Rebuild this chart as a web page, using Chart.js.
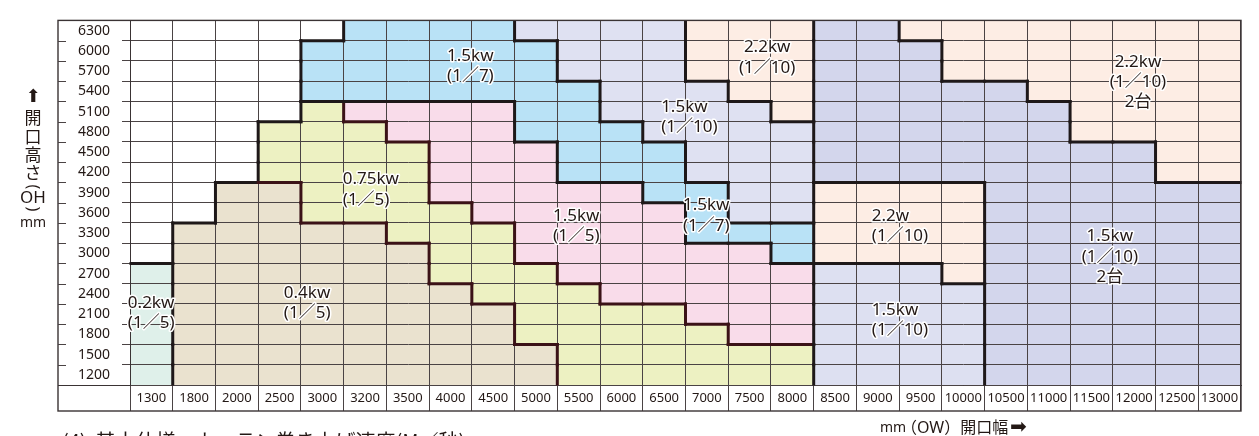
<!DOCTYPE html>
<html><head><meta charset="utf-8">
<script src="https://cdn.jsdelivr.net/npm/chart.js@4.4.0/dist/chart.umd.min.js"></script>
<style>html,body{margin:0;padding:0;background:#fff;overflow:hidden}#wrap{width:1259px;height:436px;position:relative}</style>
</head><body><div id="wrap"><canvas id="c" width="1259" height="436"></canvas></div>
<script>
// ---- categories (opening width, mm) ----
const widthLabels = ['1300','1800','2000','2500','3000','3200','3500','4000','4500','5000','5500','6000','6500','7000','7500','8000','8500','9000','9500','10000','10500','11000','11500','12000','12500','13000'];
// ---- rows (opening height, mm) ----
const heightLabels = [1200,1500,1800,2100,2400,2700,3000,3300,3600,3900,4200,4500,4800,5100,5400,5700,6000,6300];

// ---- series: per column [lowest row, highest row] covered by each motor zone ----
const kw02_1_5 = [[1200,2700],null,null,null,null,null,null,null,null,null,null,null,null,null,null,null,null,null,null,null,null,null,null,null,null,null];
const kw04_1_5 = [null,[1200,3300],[1200,3900],[1200,3900],[1200,3300],[1200,3300],[1200,3000],[1200,2400],[1200,2100],[1200,1500],null,null,null,null,null,null,null,null,null,null,null,null,null,null,null,null];
const kw075_1_5 = [null,null,null,[4200,4800],[3600,5100],[3600,4800],[3300,4500],[2700,3600],[2400,3300],[1800,2700],[1200,2400],[1200,2100],[1200,2100],[1200,1800],[1200,1500],[1200,1500],null,null,null,null,null,null,null,null,null,null];
const kw15_1_5 = [null,null,null,null,null,[5100,5100],[4800,5100],[3900,5100],[3600,5100],[3000,4500],[2700,3900],[2400,3900],[2400,3600],[2100,3000],[1800,3000],[1800,2700],null,null,null,null,null,null,null,null,null,null];
const kw15_1_7 = [null,null,null,null,[5400,6000],[5400,6300],[5400,6300],[5400,6300],[5400,6300],[4800,6000],[4200,5400],[4200,4800],[3900,4500],[3300,3900],[3300,3300],[3000,3300],null,null,null,null,null,null,null,null,null,null];
const kw15_1_10a = [null,null,null,null,null,null,null,null,null,[6300,6300],[5700,6300],[5100,6300],[4800,6300],[4200,5400],[3600,5100],[3600,4800],null,null,null,null,null,null,null,null,null,null];
const kw22_1_10a = [null,null,null,null,null,null,null,null,null,null,null,null,null,[5700,6300],[5400,6300],[5100,6300],null,null,null,null,null,null,null,null,null,null];
const kw15_1_10b = [null,null,null,null,null,null,null,null,null,null,null,null,null,null,null,null,[1200,2700],[1200,2700],[1200,2700],[1200,2400],null,null,null,null,null,null];
const kw22_1_10b = [null,null,null,null,null,null,null,null,null,null,null,null,null,null,null,null,[3000,3900],[3000,3900],[3000,3900],[2700,3900],null,null,null,null,null,null];
const kw15_1_10x2 = [null,null,null,null,null,null,null,null,null,null,null,null,null,null,null,null,[4200,6300],[4200,6300],[4200,6000],[4200,5400],[1200,5400],[1200,5100],[1200,4500],[1200,4500],[1200,3900],[1200,3900]];
const kw22_1_10x2 = [null,null,null,null,null,null,null,null,null,null,null,null,null,null,null,null,null,null,[6300,6300],[5700,6300],[5700,6300],[5400,6300],[4800,6300],[4800,6300],[4200,6300],[4200,6300]];

const ROW_STEP = 300, HALF = 150;
const TXT = '#231815', GRID = '#4a4344', FRAME = '#3a3334';
const zones = [
  {spans: kw02_1_5,   color: '#dff0ea', warm: false},
  {spans: kw04_1_5,   color: '#eae2cf', warm: true},
  {spans: kw075_1_5,  color: '#edf1c2', warm: true},
  {spans: kw15_1_5,   color: '#f9dcea', warm: true},
  {spans: kw15_1_7,   color: '#b9e2f6', warm: false},
  {spans: kw15_1_10a, color: '#dfe1f2', warm: false},
  {spans: kw22_1_10a, color: '#fdede4', warm: false},
  {spans: kw15_1_10b, color: '#dde0f1', warm: false},
  {spans: kw22_1_10b, color: '#fdede4', warm: false},
  {spans: kw15_1_10x2,color: '#d3d6ec', warm: false},
  {spans: kw22_1_10x2,color: '#fdede4', warm: false}
];

// zone captions: u = column-space position (0 = left edge), mm = height of first line
const captions = [
  {lines:['0.2kw','(1／5)'], u:-0.05, mm:2264, align:'left'},
  {lines:['0.4kw','(1／5)'], u:3.60, mm:2407, align:'left'},
  {lines:['0.75kw','(1／5)'], u:4.98, mm:4093, align:'left'},
  {lines:['1.5kw','(1／7)'], u:7.42, mm:5921, align:'left'},
  {lines:['1.5kw','(1／5)'], u:9.90, mm:3550, align:'left'},
  {lines:['1.5kw','(1／10)'], u:12.43, mm:5164, align:'left'},
  {lines:['1.5kw','(1／7)'], u:12.94, mm:3707, align:'left'},
  {lines:['2.2kw','(1／10)'], u:14.91, mm:6050, align:'center'},
  {lines:['2.2w','(1／10)'], u:17.36, mm:3550, align:'left'},
  {lines:['1.5kw','(1／10)'], u:17.36, mm:2164, align:'left'},
  {lines:['1.5kw','(1／10)','2台'], u:22.93, mm:3250, align:'center'},
  {lines:['2.2kw','(1／10)','2台'], u:23.59, mm:5836, align:'center'}
];

const datasets = zones.map(z => ({
  data: z.spans.map(s => s ? [s[0] - HALF, s[1] + HALF] : null),
  backgroundColor: z.color,
  borderWidth: 0,
  yAxisID: 'y'
}));

function buildGrid(){
  const nC = widthLabels.length, nR = heightLabels.length;
  const g = [];
  for (let c=0;c<nC;c++){ g.push(new Array(nR).fill(-1)); }
  zones.forEach((z,zi)=>{
    z.spans.forEach((s,c)=>{
      if(!s) return;
      for (let r=0;r<nR;r++){ const v=heightLabels[r]; if(v>=s[0] && v<=s[1]) g[c][r]=zi; }
    });
  });
  return g;
}

const decor = {
  id:'decor',
  beforeDraw(chart){
    const ctx=chart.ctx; ctx.save(); ctx.fillStyle='#fff'; ctx.fillRect(0,0,chart.width,chart.height); ctx.restore();
  },
  afterDraw(chart){
    const ctx = chart.ctx, xs = chart.scales.x, ys = chart.scales.y, ca = chart.chartArea;
    const xAt = u => xs.getPixelForValue(u - 0.5);
    const yAt = k => ys.getPixelForValue(heightLabels[0] - HALF + ROW_STEP * k);
    const g = buildGrid();
    const nC = widthLabels.length, nR = heightLabels.length;
    ctx.save();
    ctx.beginPath(); ctx.rect(ca.left-0.5, ca.top-0.5, ca.right-ca.left+1, ca.bottom-ca.top+1); ctx.clip();
    ctx.lineWidth = 3; ctx.lineCap = 'square';
    const seg = (x1,y1,x2,y2,a,b)=>{
      const warm = a>=0 && b>=0 && zones[a].warm && zones[b].warm;
      ctx.strokeStyle = warm ? '#3b1217' : '#1e1819';
      ctx.beginPath(); ctx.moveTo(x1,y1); ctx.lineTo(x2,y2); ctx.stroke();
    };
    for (let c=0;c<nC;c++){
      for (let r=0;r<nR;r++){
        if (r<nR-1 && g[c][r]!==g[c][r+1]) seg(xAt(c), yAt(r+1), xAt(c+1), yAt(r+1), g[c][r], g[c][r+1]);
        if (c<nC-1 && g[c][r]!==g[c+1][r]) seg(xAt(c+1), yAt(r), xAt(c+1), yAt(r+1), g[c][r], g[c+1][r]);
      }
    }
    ctx.restore();

    // captions
    ctx.save();
    ctx.font = '17px "Noto Sans", "Noto Sans CJK JP", sans-serif';
    ctx.textBaseline = 'middle';
    ctx.lineJoin = 'round';
    captions.forEach(cp=>{
      ctx.textAlign = cp.align;
      const x = xAt(cp.u);
      cp.lines.forEach((t,i)=>{
        const y = ys.getPixelForValue(cp.mm - ROW_STEP*i);
        ctx.strokeStyle = '#fff'; ctx.lineWidth = 3; ctx.strokeText(t,x,y);
        ctx.fillStyle = TXT; ctx.fillText(t,x,y);
      });
    });
    ctx.restore();

    // frame & label column
    const L = 58, R = ca.right, T = ca.top, B = chart.scales.x.bottom;
    ctx.save();
    ctx.strokeStyle = FRAME; ctx.lineWidth = 1.4;
    ctx.strokeRect(L, T, R-L, B-T);
    ctx.lineWidth = 1;
    ctx.beginPath(); ctx.moveTo(L, Math.round(ca.bottom)+0.5); ctx.lineTo(ca.left, Math.round(ca.bottom)+0.5); ctx.stroke();
    ctx.strokeStyle = GRID;
    for (let k=1;k<nR;k++){ const y=Math.round(yAt(k))+0.5; ctx.beginPath(); ctx.moveTo(L,y); ctx.lineTo(L+8,y); ctx.stroke(); }
    ctx.restore();

    // axis titles
    ctx.save();
    ctx.fillStyle = TXT; ctx.textAlign='center'; ctx.textBaseline='middle';
    ctx.font = '18px "DejaVu Sans", sans-serif';
    ctx.fillText('⬆', 33, 97);
    ctx.font = '17px "Noto Sans CJK JP", sans-serif';
    const vchars = ['開','口','高','さ'];
    vchars.forEach((ch,i)=>ctx.fillText(ch, 33, 118 + i*18.3));
    ctx.save(); ctx.translate(33,187); ctx.rotate(Math.PI/2); ctx.font='16px "Noto Sans", sans-serif'; ctx.fillText('(',0,0); ctx.restore();
    ctx.font = '17px "Noto Sans", sans-serif'; ctx.fillText('OH', 33, 198);
    ctx.save(); ctx.translate(33,209); ctx.rotate(Math.PI/2); ctx.font='16px "Noto Sans", sans-serif'; ctx.fillText(')',0,0); ctx.restore();
    ctx.font = '14px "Noto Sans", sans-serif'; ctx.fillText('mm', 33, 223);

    ctx.textAlign='left';
    ctx.font = '14px "Noto Sans", sans-serif';
    ctx.fillText('mm', 880, 428);
    ctx.font = '16px "Noto Sans", "Noto Sans CJK JP", sans-serif';
    ctx.fillText('（OW）開口幅', 901, 428);
    ctx.font = '20px "DejaVu Sans", sans-serif';
    ctx.fillText('➡', 1010, 428);

    ctx.textBaseline='top';
    ctx.font = '20px "Noto Sans CJK JP", sans-serif';
    ctx.fillText('(4)  基本仕様　カーテン巻き上げ速度(M／秒)', 62, 431);
    ctx.restore();
  }
};

new Chart(document.getElementById('c'), {
  type: 'bar',
  data: { labels: widthLabels, datasets },
  options: {
    responsive: false, animation: false, devicePixelRatio: 1,
    layout: { padding: { left: 58, right: 18, top: 7, bottom: 25 } },
    plugins: { legend: { display: false }, tooltip: { enabled: false } },
    datasets: { bar: { grouped: false, barPercentage: 1, categoryPercentage: 1 } },
    scales: {
      x: {
        type: 'category', offset: true,
        grid: { offset: true, color: GRID, lineWidth: 1, tickLength: 26, drawOnChartArea: true, z: 1 },
        border: { display: true, color: FRAME, width: 1, z: 1 },
        ticks: { font: { family: '"Noto Sans", sans-serif', size: 13 }, color: TXT, padding: -21, maxRotation: 0, autoSkip: false, z: 1 },
        afterFit(s) { s.height = 26; }
      },
      y: { type: 'linear', display: false, min: heightLabels[0] - HALF, max: heightLabels[heightLabels.length-1] + HALF },
      yl: {
        type: 'category', position: 'left', labels: heightLabels.map(String).reverse(), offset: true,
        grid: { offset: true, color: GRID, lineWidth: 1, tickLength: 8, drawOnChartArea: true, z: 1 },
        border: { display: true, color: FRAME, width: 1, z: 1 },
        ticks: { font: { family: '"Noto Sans", sans-serif', size: 14 }, color: TXT, padding: 12, autoSkip: false, z: 1 },
        afterFit(s) { s.width = 72; }
      }
    }
  },
  plugins: [decor]
});
</script></body></html>
